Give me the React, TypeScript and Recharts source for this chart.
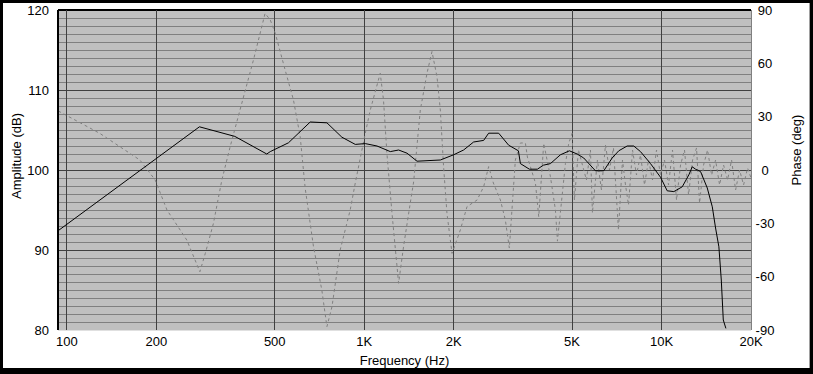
import { LineChart, Line, XAxis, YAxis, CartesianGrid, ReferenceLine } from "recharts";

// amplitude trace (Hz, dB)
const ampFreq = [
  93.3, 279, 367, 470, 483, 556, 658, 749, 841, 933, 1008, 1104, 1224, 1305, 1393, 1505, 1803, 1998,
  2159, 2333, 2522, 2621, 2833, 3061, 3301, 3352, 3594, 3823, 4006, 4230, 4569, 4900, 5203, 5475,
  5995, 6393, 6823, 7181, 7664, 8067, 8498, 9183, 9923, 10452, 11002, 11742, 12360, 12688, 13019,
  13533, 14255, 14818, 15201, 15595, 15888, 16136, 16466,
];
const ampDb = [
  92.4, 105.4, 104.2, 102.0, 102.3, 103.4, 106.0, 105.9, 104.1, 103.2, 103.3, 103.0, 102.3, 102.5,
  102.1, 101.1, 101.25, 101.9, 102.5, 103.5, 103.7, 104.6, 104.6, 103.1, 102.4, 100.8, 100.1, 100.1,
  100.6, 100.8, 101.9, 102.4, 102.0, 101.5, 99.9, 99.9, 101.5, 102.4, 103.0, 103.0, 102.3, 100.8,
  99.1, 97.4, 97.3, 97.9, 99.4, 100.4, 100.1, 99.8, 97.75, 95.4, 92.75, 90.4, 86.25, 81.25, 80.2,
];

// phase trace (Hz, deg)
const phaseFreq = [
  93.5, 129, 176, 198, 217, 253, 280, 292, 311, 332, 354, 382, 424, 464, 483, 502, 542, 578, 609,
  633, 675, 720, 749, 779, 830, 897, 933, 1008, 1048, 1132, 1161, 1192, 1240, 1305, 1356, 1428,
  1466, 1544, 1626, 1690, 1757, 1803, 1849, 1898, 1974, 2105, 2217, 2396, 2522, 2621, 2719, 2871,
  2983, 3077, 3224, 3352, 3484, 3539, 3766, 3864, 4016, 4230, 4397, 4466, 4752, 4875, 5004, 5094,
  5255, 5420, 5591, 5768, 5856, 6087, 6280, 6478, 6682, 6894, 7164, 7391, 7566, 7744, 7989, 8238,
  8498, 8767, 9042, 9327, 9621, 9923, 10235, 10559, 10889, 11233, 11588, 11950, 12329, 12718,
  13118, 13427, 13851, 14286, 14739, 15200, 15679, 16174, 16681, 17207, 17751, 18306, 18884,
  19480, 20000,
];
const phaseDeg = [
  33.2, 20.6, 5.6, -5.6, -22.5, -39.4, -57.2, -46.9, -30, -5.6, 13.1, 33.75, 61.9, 88.1, 84.4, 76.9,
  56.25, 39.4, 18.7, -10.3, -43.1, -67.5, -88.1, -76.9, -45, -22.5, -7.3, 20.6, 33.75, 54.4, 39.4,
  9.4, -24.4, -63.7, -43.1, -18.7, -6.75, 33.75, 54.4, 66.6, 52.5, 33.75, 1.9, -24.4, -46.9, -33.75,
  -20.6, -16.9, -9.4, 1.9, -7.3, -16.9, -28.1, -43.9, 5.6, 15.2, 15.2, 7.3, -7.3, -26.3, 15, -3.75,
  -22.5, -40, 3.75, 15, 20.6, -16.9, 11.25, 2.8, -5.6, 11.25, -24.2, 5.6, -11.25, 14, 0, 12.4,
  -33.75, 5.6, -8.4, -19.7, 11.25, -2.8, 8.4, -8.4, 5.6, -5.6, 11.25, -2.8, 5.6, -8.4, 11.25,
  -16.9, 2.8, 11.25, -14, 5.6, 12.4, -18.6, 2.8, 11.25, -2.8, 5.6, -8.4, 2.8, -5.6, 5.6, -11.25,
  0, -8.4, 1.1, -4.5,
];

const freqTicks = [100, 200, 500, 1000, 2000, 5000, 10000, 20000];
const gridFreqs = [100, 200, 500, 1000, 2000, 5000, 10000];
const ampTicks = [80, 90, 100, 110, 120];
const phaseTicks = [-90, -60, -30, 0, 30, 60, 90];
const minorDb = Array.from({ length: 41 }, (_, i) => 80 + i);

const ampData = ampFreq.map((f, i) => ({ f, a: ampDb[i] }));
const phaseData = phaseFreq.map((f, i) => ({ f, p: phaseDeg[i] }));

const font = { fontFamily: "'Liberation Sans', Arial, sans-serif", fontSize: 13, fill: "#000" };

const fmtFreq = (v: number) => (v >= 1000 ? `${v / 1000}K` : `${v}`);

const PhaseTick = (props: any) => {
  const { y, payload } = props;
  return (
    <text x={765} y={y} dy="0.355em" textAnchor="middle" {...font}>
      {payload.value}
    </text>
  );
};

export default function App() {
  return (
    <div style={{ position: "absolute", left: 0, top: 0, width: 813, height: 374, background: "#000" }}>
      <style>{"body{margin:0}"}</style>
      <div
        style={{
          position: "absolute",
          left: 3,
          top: 3,
          width: 806,
          height: 365,
          background: "#fff",
          borderRight: "1px solid #a0a0a0",
        }}
      />
      <div style={{ position: "absolute", left: 0, top: 0 }}>
        <LineChart width={813} height={374} margin={{ top: 10, right: 0, bottom: 0, left: 0 }}>
          <CartesianGrid
            yAxisId="amp"
            fill="#c0c0c0"
            fillOpacity={1}
            stroke="#808080"
            vertical={false}
            horizontalValues={minorDb}
            shapeRendering="crispEdges"
          />
          <XAxis
            dataKey="f"
            type="number"
            scale="log"
            domain={[93.3, 20000]}
            allowDataOverflow
            ticks={freqTicks}
            tickFormatter={fmtFreq}
            interval={0}
            height={44}
            tickLine={false}
            tickSize={0}
            tickMargin={7}
            axisLine={{ stroke: "#e0e0e0", shapeRendering: "crispEdges" }}
            tick={font}
            label={{ value: "Frequency (Hz)", position: "insideBottom", offset: 9, ...font }}
          />
          <YAxis
            yAxisId="amp"
            domain={[80, 120]}
            ticks={ampTicks}
            interval={0}
            width={58}
            tickLine={false}
            tickSize={0}
            tickMargin={9}
            axisLine={{ stroke: "#000", strokeWidth: 2, shapeRendering: "crispEdges" }}
            tick={font}
            label={() => (
              <text x={21} y={156} transform="rotate(-90,21,156)" textAnchor="middle" {...font}>
                Amplitude (dB)
              </text>
            )}
          />
          <YAxis
            yAxisId="ph"
            orientation="right"
            domain={[-90, 90]}
            ticks={phaseTicks}
            interval={0}
            width={62}
            tickLine={false}
            axisLine={{ stroke: "#808080", shapeRendering: "crispEdges" }}
            tick={<PhaseTick />}
            label={() => (
              <text x={801} y={150} transform="rotate(-90,801,150)" textAnchor="middle" {...font}>
                Phase (deg)
              </text>
            )}
          />
          {[90, 100, 110].map((v) => (
            <ReferenceLine key={v} yAxisId="amp" y={v} stroke="#404040" shapeRendering="crispEdges" />
          ))}
          <ReferenceLine yAxisId="amp" y={120} stroke="#000" strokeWidth={2} shapeRendering="crispEdges" />
          {gridFreqs.map((f) => (
            <ReferenceLine key={f} yAxisId="amp" x={f} stroke="#404040" shapeRendering="crispEdges" />
          ))}
          <Line
            yAxisId="ph"
            data={phaseData}
            dataKey="p"
            type="linear"
            stroke="#808080"
            strokeWidth={1}
            strokeDasharray="3 3"
            dot={false}
            isAnimationActive={false}
          />
          <Line
            yAxisId="amp"
            data={ampData}
            dataKey="a"
            type="linear"
            stroke="#000"
            strokeWidth={1}
            dot={false}
            isAnimationActive={false}
          />
        </LineChart>
      </div>
    </div>
  );
}
